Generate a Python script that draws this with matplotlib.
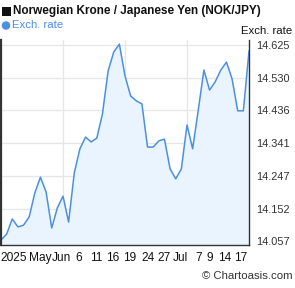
import matplotlib
matplotlib.use("Agg")
import matplotlib.pyplot as plt
from matplotlib.patches import Rectangle, Ellipse
import numpy as np

plt.rcParams['font.family'] = ['Liberation Sans', 'DejaVu Sans']

rates = [14.061, 14.078, 14.122, 14.099, 14.104, 14.128, 14.197, 14.243, 14.200, 14.096,
         14.154, 14.188, 14.113, 14.255, 14.325, 14.359, 14.345, 14.356, 14.426, 14.550,
         14.605, 14.628, 14.536, 14.478, 14.464, 14.455, 14.330, 14.330, 14.348, 14.353,
         14.267, 14.238, 14.267, 14.394, 14.325, 14.437, 14.553, 14.495, 14.519, 14.553,
         14.576, 14.527, 14.435, 14.435, 14.608]
x_labels = ['2025', 'May', 'Jun', '6', '11', '16', '19', '24', '27', 'Jul', '7', '9', '14', '17']
x_label_pos = [2.3, 6.9, 10.7, 13.8, 16.9, 19.8, 22.9, 26.1, 29.0, 31.9, 35.0, 37.1, 39.7, 42.5]
y_ticks = [14.057, 14.152, 14.247, 14.341, 14.436, 14.530, 14.625]
y_tick_labels = ['14.057', '14.152', '14.247', '14.341', '14.436', '14.530', '14.625']
v_grid = [11, 22, 33]

W, H = 295, 288
fig = plt.figure(figsize=(W / 100, H / 100), dpi=100)
ax = fig.add_axes([1 / W, 1 - 245 / H, 248 / W, 205 / H])

x = np.arange(len(rates))
line_c = '#4a90e2'
ax.fill_between(x, rates, 14.0466, color='#eaf4fe', lw=0)
ax.plot(x, rates, color=line_c, lw=1.1)

ax.set_xlim(0, len(rates) - 1)
ax.set_ylim(14.0466, 14.640)

for v in y_ticks[1:]:
    ax.axhline(v, color='#e6e6e6', lw=0.9, zorder=0)
for v in v_grid:
    ax.axvline(v, color='#e6e6e6', lw=0.9, zorder=0)

ax.yaxis.tick_right()
ax.set_yticks(y_ticks)
ax.set_yticklabels(y_tick_labels, fontsize=7.9, color='#333333')
ax.tick_params(axis='y', length=0, pad=5)
ax.set_xticks(x_label_pos)
ax.set_xticklabels(x_labels, fontsize=8.6, color='#111111')
ax.tick_params(axis='x', length=0, pad=5)

ax.spines['top'].set_visible(False)
ax.spines['left'].set_color('#333333')
ax.spines['left'].set_linewidth(1.6)
ax.spines['right'].set_color('#333333')
ax.spines['right'].set_linewidth(1.0)
ax.spines['bottom'].set_color('#333333')
ax.spines['bottom'].set_linewidth(1.0)

# title marker square and legend dot
fig.add_artist(Rectangle((2 / W, 1 - 15.5 / H), 8.5 / W, 8.5 / H, transform=fig.transFigure,
                         color='#111111', lw=0))
fig.add_artist(Ellipse((6 / W, 1 - 25.5 / H), 8.5 / W, 8.5 / H, transform=fig.transFigure,
                       color=line_c, lw=0))

fig.text(13 / W, 1 - 11 / H, 'Norwegian Krone / Japanese Yen (NOK/JPY)', fontsize=8.5,
         fontweight='bold', va='center', ha='left', color='#111111')
fig.text(12 / W, 1 - 25 / H, 'Exch. rate', fontsize=8.2, va='center', ha='left', color=line_c)
fig.text(292 / W, 1 - 31 / H, 'Exch. rate', fontsize=8.2, va='center', ha='right', color='#111111')
fig.text(293 / W, 1 - 276 / H, '© Chartoasis.com', fontsize=8.2, va='center', ha='right',
         color='#333333')

fig.savefig('out.png', dpi=100)
